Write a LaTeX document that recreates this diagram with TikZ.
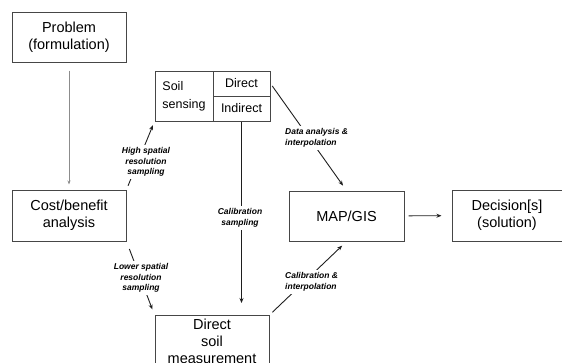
\documentclass[tikz,border=0pt]{standalone}
\usepackage{fontspec}
\setmainfont{Liberation Sans}
\usetikzlibrary{arrows.meta}
\definecolor{BoxLineColor}{RGB}{70,70,70}
\definecolor{ArrowColor}{RGB}{30,30,30}
\definecolor{GuideColor}{RGB}{140,140,140}
\begin{document}
\begin{tikzpicture}[x=1pt,y=-1pt,
   box/.style n args={2}{draw=BoxLineColor,line width=1pt,minimum width=#1pt,minimum height=#2pt,inner sep=0pt,align=center,font=\fontsize{14.5}{17}\selectfont},
   cell/.style={font=\fontsize{12.5}{18}\selectfont},
   lbl/.style={fill=white,inner sep=3pt,align=center,font=\fontsize{8.5}{10.5}\selectfont\bfseries\itshape},
   arr/.style={ArrowColor,line width=0.9pt,-{Stealth[length=5pt,width=4pt]}}]
\useasboundingbox (0,0) rectangle (562,362);
   \node[box={114}{50}](prob) at(69,37) {Problem\\(formulation)};
   \node[box={114}{51}](cost) at(69,215.5) {Cost/benefit\\analysis};
   \node[box={58}{50},cell,align=left](soil) at(184,96) {Soil\\sensing};
   \node[box={57}{25},cell](direct) at(241.5,83.5) {Direct};
   \node[box={57}{25},cell](indirect) at(241.5,108.5) {Indirect};
   \node[box={114}{52},anchor=north](dsm) at(212,315) {Direct\\soil\\measurement};
   \node[box={115}{50}](map) at(346.5,216) {MAP/GIS};
   \node[box={110}{51}](dec) at(507,215.5) {Decision[s]\\(solution)};
\draw[GuideColor,line width=0.6pt,-{Stealth[length=4pt,width=3pt]},shorten <=8pt,shorten >=5pt] (prob) -- (cost);
\draw[arr,shorten <=4pt,shorten >=4pt] (cost.north east) -- (soil.south west);
\draw[arr,shorten <=8pt,shorten >=6pt] (cost.south east) -- (dsm.north west);
\draw[arr,shorten >=12pt] (indirect.south) -- (indirect.south |- dsm.north);
\draw[arr,shorten <=3pt,shorten >=6pt] (direct.east) -- (map.north);
\draw[arr,shorten <=4pt,shorten >=6pt] (dsm.north east) -- (map.south);
\draw[arr,shorten <=4pt,shorten >=10pt] (map) -- (dec);
   \node[lbl](lhigh) at(146,162) {High spatial\\resolution\\sampling};
   \node[lbl](llow) at(141,278) {Lower spatial\\resolution\\sampling};
   \node[lbl](lcal) at(240,218) {Calibration\\sampling};
   \node[lbl,anchor=west,align=left](ldata) at(282,138) {Data analysis \&\\interpolation};
   \node[lbl,anchor=west,align=left](lcint) at(282,282) {Calibration \&\\interpolation};
\end{tikzpicture}
\end{document}
